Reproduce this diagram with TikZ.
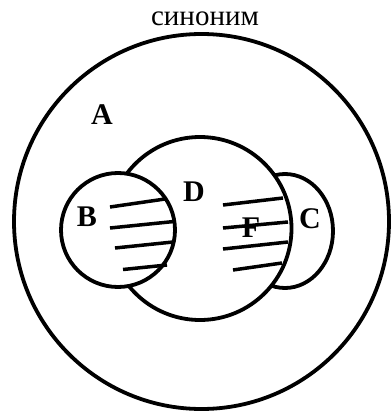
\documentclass[tikz,border=0pt]{standalone}
\usepackage{fontspec}
\setmainfont{Liberation Serif}

\begin{document}
\begin{tikzpicture}[x=1pt, y=-1pt, line width=3.8pt,
  setline/.style={draw=black, fill=white},
  hatch/.style={line width=3.5pt},
  lbl/.style={font=\fontsize{30}{31}\selectfont\bfseries, inner sep=0pt},
  caption/.style={font=\fontsize{29}{30}\selectfont, inner sep=0pt}]
  \useasboundingbox (0, 0) rectangle (390, 414);

  % title
  \node[caption] (title) at (205, 18.5) {синоним};

  % sets
  \draw[setline] (201.5, 221.5) circle (187.5);
  \draw[setline] (285, 231) ellipse [x radius=48, y radius=57];
  \draw[setline] (200, 228.5) circle (91.5);
  \draw[setline] (118, 230) circle (57);

  % hatching in B
  \draw[hatch] (110, 207) -- (165, 199);
  \draw[hatch] (110, 228) -- (174, 221.5);
  \draw[hatch] (115, 248) -- (173, 242);
  \draw[hatch] (123, 269.5) -- (167, 265);

  % hatching in D
  \draw[hatch] (223, 205) -- (283, 198);
  \draw[hatch] (223, 228) -- (288, 222);
  \draw[hatch] (223, 249) -- (288, 242);
  \draw[hatch] (233, 270) -- (282, 263);

  % labels
  \node[lbl] (lblA) at (102, 115) {A};
  \node[lbl] (lblB) at (87, 217) {B};
  \node[lbl] (lblD) at (194, 191.5) {D};
  \node[lbl] (lblF) at (251, 228) {F};
  \node[lbl] (lblC) at (310, 218.5) {C};
\end{tikzpicture}
\end{document}
